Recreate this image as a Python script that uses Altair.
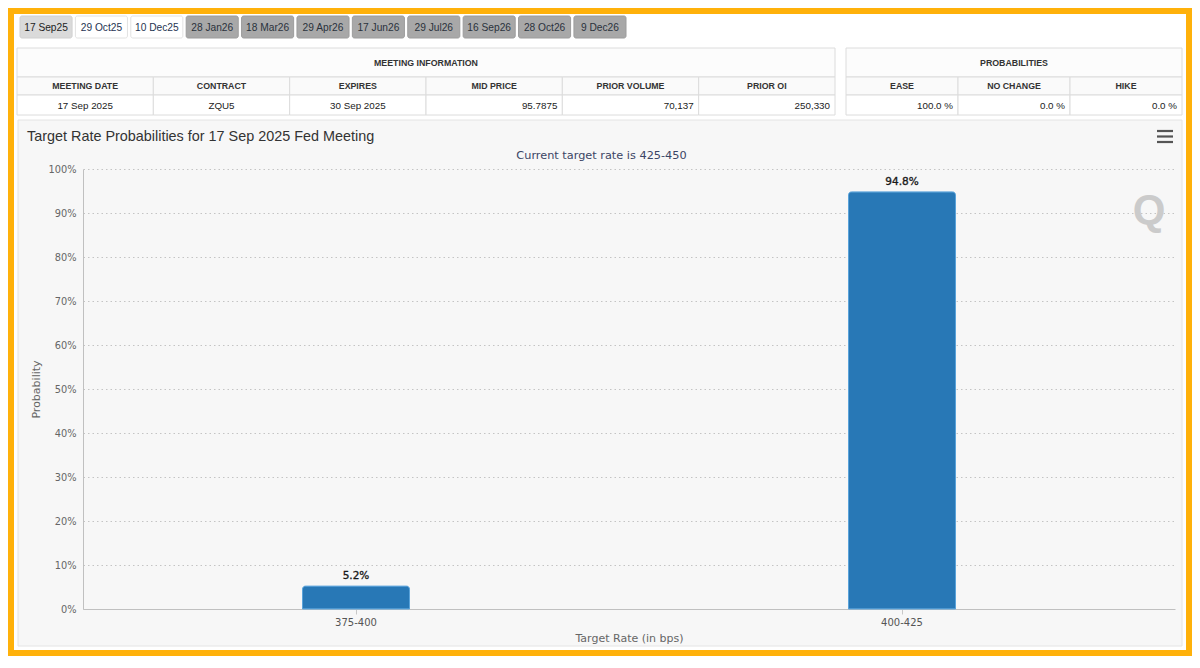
import altair as alt
import pandas as pd

# ---------------- data ----------------
TAB_LABELS = ["17 Sep25", "29 Oct25", "10 Dec25", "28 Jan26", "18 Mar26", "29 Apr26",
              "17 Jun26", "29 Jul26", "16 Sep26", "28 Oct26", "9 Dec26"]
TAB_STATE = ["selected", "open", "open", "closed", "closed", "closed",
             "closed", "closed", "closed", "closed", "closed"]

INFO_TITLE = "MEETING INFORMATION"
INFO_COLS = ["MEETING DATE", "CONTRACT", "EXPIRES", "MID PRICE", "PRIOR VOLUME", "PRIOR OI"]
INFO_VALS = ["17 Sep 2025", "ZQU5", "30 Sep 2025", "95.7875", "70,137", "250,330"]

PROB_TITLE = "PROBABILITIES"
PROB_COLS = ["EASE", "NO CHANGE", "HIKE"]
PROB_VALS = ["100.0 %", "0.0 %", "0.0 %"]

CHART_TITLE = "Target Rate Probabilities for 17 Sep 2025 Fed Meeting"
CHART_SUBTITLE = "Current target rate is 425-450"
RATES = ["375-400", "400-425"]
PROBS = [5.2, 94.8]
Y_TICKS = [0, 10, 20, 30, 40, 50, 60, 70, 80, 90, 100]

# ---------------- styles / layout ----------------
INFO_ALIGN = ["center", "center", "center", "right", "right", "right"]
PROB_ALIGN = ["right", "right", "right"]
STATES = ["selected", "open", "closed"]
TAB_FILLS = ["#dadada", "#ffffff", "#a8a8a8"]
TAB_STROKES = ["#d0d0d0", "#e2e2e2", "#9c9c9c"]
TAB_TEXT = ["#222222", "#1f3552", "#2a323c"]

ORANGE = "#FFB10A"
PANEL = "#f7f7f7"
BORDER = "#dcdcdc"
BAR = "#2878b6"
BAR_EDGE = "#5aa3da"
ARIAL = "Liberation Sans"
HC = "DejaVu Sans"

SVG_X0, SVG_Y0 = 8, 8
PAD = {"left": 75, "top": 161, "right": 17, "bottom": 47}
PLOT_W, PLOT_H = 1092, 440
X0 = SVG_X0 + PAD["left"]
Y0 = SVG_Y0 + PAD["top"]
SVG_X1 = SVG_X0 + PAD["left"] + PLOT_W + PAD["right"]
SVG_Y1 = SVG_Y0 + PAD["top"] + PLOT_H + PAD["bottom"]

ONE = pd.DataFrame({"_": [0]})


def px(x):
    return x - X0


def py(y):
    return y - Y0


def box(x0, y0, x1, y1, fill="#ffffff", fill_opacity=1.0, stroke=None, sw=1.0):
    kw = dict(fill=fill, fillOpacity=fill_opacity)
    if stroke:
        kw.update(stroke=stroke, strokeWidth=sw)
    return alt.Chart(ONE).mark_rect(**kw).encode(
        x=alt.value(px(x0)), x2=alt.value(px(x1)),
        y=alt.value(py(y0)), y2=alt.value(py(y1)))


def label(text, x, y, size, color, font=HC, weight="normal", align="center",
          baseline="middle"):
    return alt.Chart(ONE).mark_text(
        text=text, fontSize=size, color=color, font=font, fontWeight=weight,
        align=align, baseline=baseline).encode(x=alt.value(px(x)), y=alt.value(py(y)))


def hline(x0, x1, y, color, sw):
    return alt.Chart(ONE).mark_rule(color=color, strokeWidth=sw).encode(
        x=alt.value(px(x0)), x2=alt.value(px(x1)), y=alt.value(py(y)))


# ---------------- frame ----------------
frame_white = box(SVG_X0, SVG_Y0, SVG_X1, SVG_Y1, fill_opacity=0, stroke="#ffffff", sw=20)
frame_orange = box(SVG_X0, SVG_Y0, SVG_X1, SVG_Y1, fill_opacity=0, stroke=ORANGE, sw=12)
top_white = box(SVG_X0 + 6, SVG_Y0 + 6, SVG_X1 - 6, 120)
panel_edge = box(18, 120, SVG_X1 - 10, SVG_Y1 - 10, fill_opacity=0, stroke="#e4e4e4", sw=1)

# ---------------- tabs ----------------
tab_df = pd.DataFrame({"tab": TAB_LABELS, "state": TAB_STATE})
tab_x = alt.X("tab:N", axis=None,
              scale=alt.Scale(type="band", domain=TAB_LABELS, range=[px(20), px(626)],
                              paddingInner=0.06, paddingOuter=0))
tab_rect = alt.Chart(tab_df).mark_rect(cornerRadius=2, strokeWidth=1).encode(
    x=tab_x, y=alt.value(py(16)), y2=alt.value(py(38)),
    fill=alt.Fill("state:N", scale=alt.Scale(domain=STATES, range=TAB_FILLS), legend=None),
    stroke=alt.Stroke("state:N", scale=alt.Scale(domain=STATES, range=TAB_STROKES), legend=None))
tab_text = alt.Chart(tab_df).mark_text(font=ARIAL, fontSize=10.2).encode(
    x=tab_x, y=alt.value(py(27.5)), text="tab:N",
    color=alt.Color("state:N", scale=alt.Scale(domain=STATES, range=TAB_TEXT), legend=None))
tabs = alt.layer(tab_rect, tab_text)


# ---------------- tables ----------------
def table(title, cols, vals, aligns, x0, x1):
    df = pd.DataFrame({"col": cols, "val": vals, "align": aligns})
    sc = alt.Scale(type="band", domain=cols, range=[px(x0), px(x1)], paddingInner=0, paddingOuter=0)
    xs = alt.X("col:N", axis=None, scale=sc)
    xr = alt.X("col:N", axis=None, scale=sc, bandPosition=1)
    base = alt.Chart(df)
    head_box = box(x0, 48, x1, 77, fill="#fcfcfc", stroke=BORDER)
    head_txt = label(title, (x0 + x1) / 2, 62.5, 8.8, "#333333", font=ARIAL, weight="bold")
    hdr_cells = base.mark_rect(fill="#fafafa", stroke=BORDER, strokeWidth=1).encode(
        x=xs, y=alt.value(py(77)), y2=alt.value(py(95)))
    hdr_txt = base.mark_text(font=ARIAL, fontSize=8.8, fontWeight="bold", color="#333333").encode(
        x=xs, y=alt.value(py(86)), text="col:N")
    val_cells = base.mark_rect(fill="#ffffff", stroke=BORDER, strokeWidth=1).encode(
        x=xs, y=alt.value(py(95)), y2=alt.value(py(115)))
    val_c = base.transform_filter("datum.align == 'center'").mark_text(
        font=ARIAL, fontSize=9.8, color="#222222").encode(
        x=xs, y=alt.value(py(105.5)), text="val:N")
    val_r = base.transform_filter("datum.align == 'right'").mark_text(
        font=ARIAL, fontSize=9.8, color="#222222", align="right", dx=-5).encode(
        x=xr, y=alt.value(py(105.5)), text="val:N")
    return alt.layer(head_box, head_txt, hdr_cells, hdr_txt, val_cells, val_c, val_r)


info_table = table(INFO_TITLE, INFO_COLS, INFO_VALS, INFO_ALIGN, 17, 835)
prob_table = table(PROB_TITLE, PROB_COLS, PROB_VALS, PROB_ALIGN, 846, SVG_X1 - 10)

# ---------------- chart texts / icons ----------------
title = label(CHART_TITLE, 27, 140.5, 14.4, "#333333", font=ARIAL, align="left",
              baseline="alphabetic")
subtitle = label(CHART_SUBTITLE, 601.5, 155.5, 11.3, "#3b4565")
menu = [hline(1157, 1173, y, "#555555", 2.2) for y in (131, 136.5, 142)]
watermark = label("Q", 1149, 211, 42, "#cbcbcb", font=ARIAL, weight="bold")

# ---------------- main bar chart ----------------
main_df = pd.DataFrame({"rate": RATES, "prob": PROBS})
x_enc = alt.X("rate:N", sort=RATES,
              scale=alt.Scale(type="band", paddingInner=0, paddingOuter=0),
              axis=alt.Axis(orient="bottom", title="Target Rate (in bps)", labelAngle=0,
                            labelFont=HC, labelFontSize=10, labelColor="#555555",
                            labelPadding=3, ticks=True, tickSize=5, tickColor="#c8c8c8",
                            domainColor="#c0c0c0", titleFont=HC, titleFontSize=11,
                            titleFontWeight="normal", titleColor="#666666", titlePadding=5))
y_enc = alt.Y("prob:Q", scale=alt.Scale(domain=[0, 100], nice=False),
              axis=alt.Axis(orient="left", values=Y_TICKS, labelExpr="datum.value + '%'",
                            labelFont=HC, labelFontSize=9.8, labelColor="#666666",
                            labelPadding=7, ticks=False, domainColor="#c0c0c0",
                            grid=True, gridDash=[1.5, 3], gridColor="#c4c4c4", gridWidth=1,
                            title="Probability", titleFont=HC, titleFontSize=11,
                            titleFontWeight="normal", titleColor="#666666", titlePadding=6))
bars = alt.Chart(main_df).mark_bar(
    size=107, color=BAR, stroke=BAR_EDGE, strokeWidth=1,
    cornerRadiusTopLeft=3, cornerRadiusTopRight=3).encode(x=x_enc, y=y_enc)
bar_labels = alt.Chart(main_df).transform_calculate(
    lbl="format(datum.prob, '.1f') + '%'").mark_text(
    font=HC, fontSize=10.5, fontWeight="normal", color="#1a1a1a",
    stroke="#1a1a1a", strokeWidth=0.35,
    baseline="alphabetic", dy=-7).encode(x=x_enc, y=y_enc, text="lbl:N")
main = alt.layer(bars, bar_labels)

layers = [frame_white, frame_orange, top_white, panel_edge, tabs, info_table, prob_table,
          title, subtitle, *menu, watermark, main]

chart = alt.layer(*layers).resolve_scale(
    x="independent", y="independent", fill="independent",
    stroke="independent", color="independent"
).properties(
    width=PLOT_W, height=PLOT_H, background=PANEL, padding=PAD,
    autosize=alt.AutoSizeParams(type="none")
).configure_view(stroke=None)

chart.save("out.html", embed_options={"renderer": "svg", "actions": False})
